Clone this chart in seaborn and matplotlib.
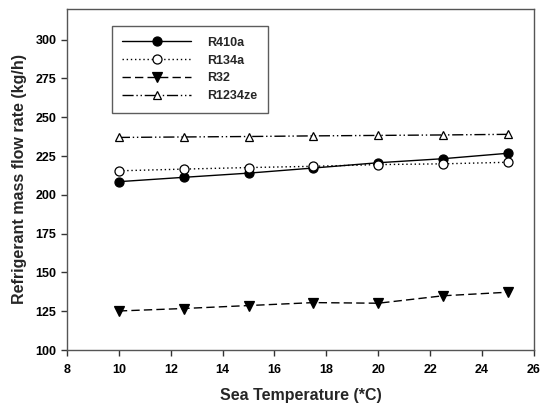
import matplotlib
matplotlib.use("Agg")
import matplotlib.pyplot as plt
import pandas as pd
import seaborn as sns

# Data
sea_temp = [10, 12.5, 15, 17.5, 20, 22.5, 25]
r410a = [208.5, 211.3, 214.0, 217.3, 220.7, 223.3, 226.8]
r134a = [215.5, 216.6, 217.6, 218.4, 219.5, 220.0, 221.0]
r32 = [125.2, 126.8, 128.7, 130.6, 130.2, 135.0, 137.3]
r1234ze = [237.0, 237.3, 237.6, 238.0, 238.3, 238.6, 239.0]

df = pd.DataFrame({"temp": sea_temp, "R410a": r410a, "R134a": r134a,
                   "R32": r32, "R1234ze": r1234ze})
df_long = df.melt(id_vars="temp", var_name="refrigerant", value_name="flow")

sns.set_style("ticks")
plt.rcParams["font.family"] = ["Liberation Sans", "DejaVu Sans"]

fig = plt.figure(figsize=(5.42, 4.09), dpi=100)
ax = fig.add_axes([0.1236, 0.144, 0.8614, 0.835])

styles = {
    "R410a": dict(linestyle="-", marker="o", mfc="black", ms=6.5),
    "R134a": dict(linestyle=(0, (1, 2)), marker="o", mfc="white", ms=6.5),
    "R32": dict(linestyle=(0, (6, 3)), marker="v", mfc="black", ms=6.5),
    "R1234ze": dict(linestyle=(0, (8, 2, 1, 2, 1, 2)), marker="^", mfc="white", ms=6),
}

for name in ["R410a", "R134a", "R32", "R1234ze"]:
    sub = df_long[df_long["refrigerant"] == name]
    st = styles[name]
    sns.lineplot(data=sub, x="temp", y="flow", ax=ax, color="black", lw=1,
                 linestyle=st["linestyle"], marker=st["marker"],
                 markerfacecolor=st["mfc"], markeredgecolor="black",
                 markeredgewidth=0.9, markersize=st["ms"], label=name)

ax.set_xlim(8, 26)
ax.set_ylim(100, 320)
ax.set_xticks(range(8, 27, 2))
ax.set_yticks(range(100, 301, 25))
ax.tick_params(direction="out", length=4, width=1, colors="#333333",
               labelsize=9, labelcolor="black")
ax.tick_params(axis="x", pad=6)
for lab in ax.get_xticklabels() + ax.get_yticklabels():
    lab.set_fontweight("bold")
for sp in ax.spines.values():
    sp.set_color("#555555")
    sp.set_linewidth(1)

ax.set_xlabel("Sea Temperature (*C)", fontsize=11.5, fontweight="bold", labelpad=9)
ax.set_ylabel("Refrigerant mass flow rate (kg/h)", fontsize=11.5, fontweight="bold",
              labelpad=6)

leg = ax.legend(loc="upper left", bbox_to_anchor=(0.096, 0.949), borderaxespad=0,
                frameon=True, fancybox=False, edgecolor="#333333", handlelength=5.5,
                handletextpad=1.3, borderpad=0.85, labelspacing=0.47,
                prop={"weight": "bold", "size": 9})
leg.get_frame().set_linewidth(1)

fig.savefig("out.png", dpi=100)
